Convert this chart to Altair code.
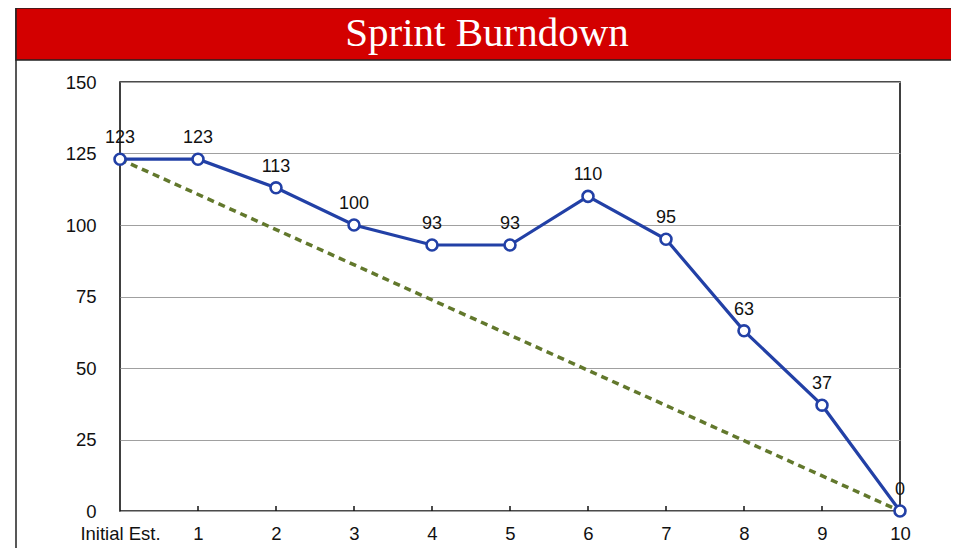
import altair as alt
import pandas as pd

# ---- data ----
days = [0, 1, 2, 3, 4, 5, 6, 7, 8, 9, 10]
day_labels = ["Initial Est.", "1", "2", "3", "4", "5", "6", "7", "8", "9", "10"]
remaining = [123, 123, 113, 100, 93, 93, 110, 95, 63, 37, 0]
ideal_days = [0, 10]
ideal_values = [123, 0]
y_ticks = [0, 25, 50, 75, 100, 125, 150]
title_text = "Sprint Burndown"

W, H = 780, 429

actual = pd.DataFrame({"day": days, "remaining": remaining})
ideal = pd.DataFrame({"day": ideal_days, "remaining": ideal_values})
ticks_df = pd.DataFrame({"day": days[1:-1]})

label_expr = " : ".join(
    [f"datum.value == {d} ? '{l}'" for d, l in zip(days, day_labels)] + ["datum.label"]
)

x_scale = alt.Scale(domain=[0, 10], nice=False, zero=False)
y_scale = alt.Scale(domain=[0, 150], nice=False)

x_enc = alt.X(
    "day:Q",
    scale=x_scale,
    axis=alt.Axis(
        values=days,
        labelExpr=label_expr,
        labelOverlap=False,
        labelBound=False,
        labelFlush=False,
        title=None,
        grid=False,
        ticks=False,
        domain=False,
        labelPadding=13,
        labelFontSize=18.5,
        labelFont="Liberation Sans",
        labelColor="#111111",
    ),
)
y_enc = alt.Y(
    "remaining:Q",
    scale=y_scale,
    axis=alt.Axis(
        values=y_ticks,
        labelOverlap=False,
        labelFlush=False,
        title=None,
        grid=True,
        gridColor="#a0a0a0",
        gridWidth=1.2,
        ticks=False,
        domain=False,
        labelPadding=24,
        labelFontSize=18.5,
        labelFont="Liberation Sans",
        labelColor="#111111",
    ),
)

base = alt.Chart(actual)

# decorative outer panel and red title band
panel = alt.Chart(pd.DataFrame({"a": [0]})).mark_rect(
    fill="transparent", stroke="#222222", strokeWidth=1.5
).encode(
    x=alt.value(-104), x2=alt.value(860), y=alt.value(-75), y2=alt.value(480)
)
band = alt.Chart(pd.DataFrame({"a": [0]})).mark_rect(
    fill="#d30000", stroke="#222222", strokeWidth=1.5
).encode(
    x=alt.value(-104), x2=alt.value(860), y=alt.value(-74), y2=alt.value(-22)
)
title = alt.Chart(pd.DataFrame({"t": [title_text]})).mark_text(
    font="Liberation Serif", fontSize=41, color="white", baseline="middle", align="center"
).encode(
    x=alt.value(367), y=alt.value(-48), text="t:N"
)

inner_ticks = alt.Chart(ticks_df).mark_rule(color="#111111", strokeWidth=1.5).encode(
    x=alt.X("day:Q", scale=x_scale),
    y=alt.value(H),
    y2=alt.value(H - 5),
)

ideal_line = alt.Chart(ideal).mark_line(
    color="#62782c", strokeWidth=3.5, strokeDash=[7, 5]
).encode(x=x_enc, y=y_enc)

actual_line = base.mark_line(color="#2240a6", strokeWidth=3.2).encode(x=x_enc, y=y_enc)
points = base.mark_point(
    shape="circle", size=120, filled=True, fill="white", stroke="#2240a6",
    strokeWidth=2.6, opacity=1
).encode(x=x_enc, y=y_enc)

labels = base.mark_text(
    font="Liberation Sans", fontSize=18, color="#111111", dy=-21
).encode(x=x_enc, y=y_enc, text="remaining:Q")

chart = alt.layer(
    panel, band, title, inner_ticks, ideal_line, actual_line, points, labels
).properties(
    width=W,
    height=H,
    padding={"left": 112, "top": 74, "right": 51, "bottom": 37},
    autosize=alt.AutoSizeParams(type="none"),
    background="white",
).configure_view(
    stroke="#111111", strokeWidth=1.6
)

chart.save("out.html", embed_options={"renderer": "svg", "actions": False})
